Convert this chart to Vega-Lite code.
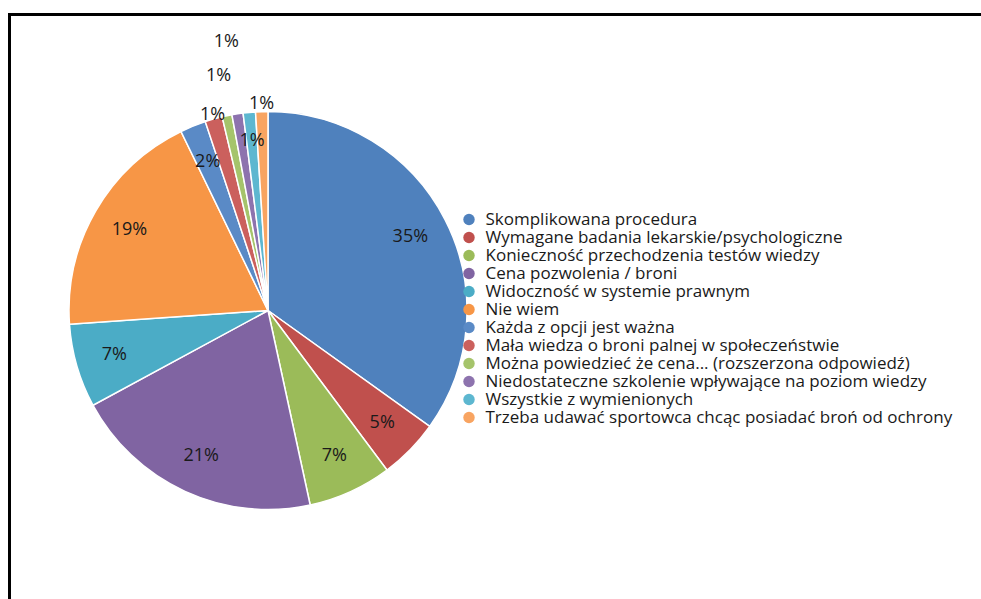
{
  "$schema": "https://vega.github.io/schema/vega-lite/v6.json",
  "width": 973.5,
  "height": 586.5,
  "autosize": {"type": "none"},
  "padding": {"left": 9.5, "top": 14.5, "right": 0, "bottom": 0},
  "background": "#ffffff",
  "view": {"stroke": "#000000", "strokeWidth": 3},
  "data": {
    "values": [
      {"rank": 1, "category": "Skomplikowana procedura", "value": 34.9, "label": "35%"},
      {"rank": 2, "category": "Wymagane badania lekarskie/psychologiczne", "value": 4.9, "label": "5%"},
      {"rank": 3, "category": "Konieczność przechodzenia testów wiedzy", "value": 6.8, "label": "7%"},
      {"rank": 4, "category": "Cena pozwolenia / broni", "value": 20.5, "label": "21%"},
      {"rank": 5, "category": "Widoczność w systemie prawnym", "value": 6.8, "label": "7%"},
      {"rank": 6, "category": "Nie wiem", "value": 18.9, "label": "19%"},
      {"rank": 7, "category": "Każda z opcji jest ważna", "value": 2.1, "label": "2%"},
      {"rank": 8, "category": "Mała wiedza o broni palnej w społeczeństwie", "value": 1.4, "label": "1%"},
      {"rank": 9, "category": "Można powiedzieć że cena... (rozszerzona odpowiedź)", "value": 0.8, "label": "1%"},
      {"rank": 10, "category": "Niedostateczne szkolenie wpływające na poziom wiedzy", "value": 0.9, "label": "1%"},
      {"rank": 11, "category": "Wszystkie z wymienionych", "value": 1.0, "label": "1%"},
      {"rank": 12, "category": "Trzeba udawać sportowca chcąc posiadać broń od ochrony", "value": 1.0, "label": "1%"}
    ]
  },
  "encoding": {
    "theta": {"field": "value", "type": "quantitative", "stack": true},
    "order": {"field": "rank", "type": "quantitative"},
    "detail": {"field": "category", "type": "nominal"}
  },
  "layer": [
    {
      "mark": {"type": "arc", "outerRadius": 199, "xOffset": -228.25, "yOffset": 2.75, "stroke": "#ffffff", "strokeWidth": 1.5},
      "encoding": {
        "color": {
          "field": "category",
          "type": "nominal",
          "scale": {
            "domain": [
              "Skomplikowana procedura",
              "Wymagane badania lekarskie/psychologiczne",
              "Konieczność przechodzenia testów wiedzy",
              "Cena pozwolenia / broni",
              "Widoczność w systemie prawnym",
              "Nie wiem",
              "Każda z opcji jest ważna",
              "Mała wiedza o broni palnej w społeczeństwie",
              "Można powiedzieć że cena... (rozszerzona odpowiedź)",
              "Niedostateczne szkolenie wpływające na poziom wiedzy",
              "Wszystkie z wymienionych",
              "Trzeba udawać sportowca chcąc posiadać broń od ochrony"
            ],
            "range": ["#4F81BD", "#C0504D", "#9BBB59", "#8064A2", "#4BACC6", "#F79646", "#5A8AC6", "#CB605D", "#A5C46B", "#8D73AE", "#5DB7D0", "#F8A461"]
          },
          "legend": {
            "title": null,
            "orient": "none",
            "legendX": 451,
            "legendY": 196.5,
            "symbolType": "circle",
            "symbolSize": 130,
            "symbolStrokeWidth": 0,
            "rowPadding": 0,
            "labelOffset": 8,
            "labelLimit": 1000,
            "labelFont": "Open Sans",
            "labelFontSize": 17,
            "labelColor": "#1a1a1a"
          }
        }
      }
    },
    {
      "mark": {"type": "text", "radius": 160, "xOffset": -228.25, "yOffset": 2.75, "font": "Open Sans", "fontSize": 18, "color": "#1a1a1a", "align": "center", "baseline": "middle"},
      "encoding": {"text": {"condition": {"test": "datum.rank <= 7", "field": "label", "type": "nominal"}, "value": ""}}
    },
    {
      "mark": {"type": "text", "radius": 203, "xOffset": -228.25, "yOffset": 2.75, "font": "Open Sans", "fontSize": 18, "color": "#1a1a1a", "align": "center", "baseline": "middle"},
      "encoding": {"text": {"condition": {"test": "datum.rank == 8", "field": "label", "type": "nominal"}, "value": ""}}
    },
    {
      "mark": {"type": "text", "radius": 240, "xOffset": -228.25, "yOffset": 2.75, "font": "Open Sans", "fontSize": 18, "color": "#1a1a1a", "align": "center", "baseline": "middle"},
      "encoding": {"text": {"condition": {"test": "datum.rank == 9", "field": "label", "type": "nominal"}, "value": ""}}
    },
    {
      "mark": {"type": "text", "radius": 272, "xOffset": -228.25, "yOffset": 2.75, "font": "Open Sans", "fontSize": 18, "color": "#1a1a1a", "align": "center", "baseline": "middle"},
      "encoding": {"text": {"condition": {"test": "datum.rank == 10", "field": "label", "type": "nominal"}, "value": ""}}
    },
    {
      "mark": {"type": "text", "radius": 170, "xOffset": -228.25, "yOffset": 2.75, "font": "Open Sans", "fontSize": 18, "color": "#1a1a1a", "align": "center", "baseline": "middle"},
      "encoding": {"text": {"condition": {"test": "datum.rank == 11", "field": "label", "type": "nominal"}, "value": ""}}
    },
    {
      "mark": {"type": "text", "radius": 207, "xOffset": -228.25, "yOffset": 2.75, "font": "Open Sans", "fontSize": 18, "color": "#1a1a1a", "align": "center", "baseline": "middle"},
      "encoding": {"text": {"condition": {"test": "datum.rank == 12", "field": "label", "type": "nominal"}, "value": ""}}
    }
  ]
}
